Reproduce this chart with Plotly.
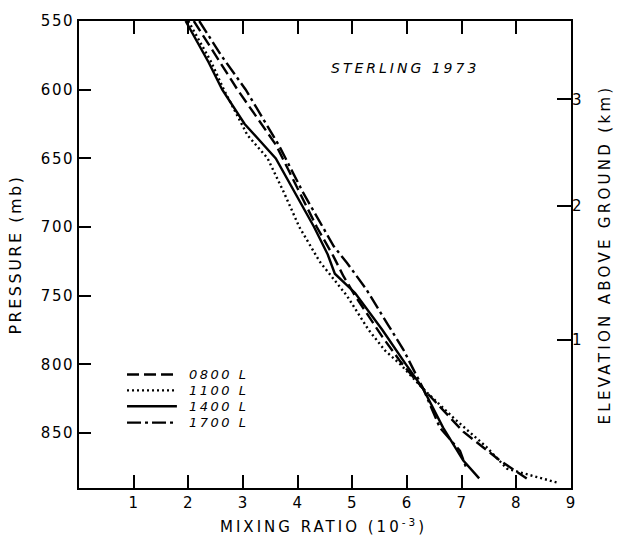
import plotly.graph_objects as go

# ---- data ----
p_0800 = [550, 575, 600, 620, 640, 660, 680, 700, 721, 736, 750, 780, 798, 818, 849, 870, 883]
mr_0800 = [2.10, 2.50, 2.90, 3.25, 3.60, 3.85, 4.10, 4.35, 4.65, 4.84, 5.05, 5.55, 5.88, 6.30, 7.03, 7.70, 8.19]

p_1100 = [550, 580, 600, 625, 633, 650, 675, 700, 725, 750, 775, 790, 800, 818, 840, 860, 876, 886]
mr_1100 = [2.00, 2.42, 2.65, 2.98, 3.08, 3.45, 3.75, 4.03, 4.40, 4.90, 5.30, 5.60, 5.88, 6.30, 6.88, 7.45, 7.83, 8.74]

p_1400 = [550, 580, 600, 625, 650, 675, 700, 720, 734, 748, 775, 800, 818, 846, 870, 883]
mr_1400 = [1.95, 2.37, 2.62, 3.03, 3.60, 3.95, 4.30, 4.55, 4.68, 5.05, 5.55, 5.98, 6.30, 6.66, 7.03, 7.32]

p_1700 = [550, 575, 600, 640, 675, 700, 714, 726, 745, 771, 789, 818, 846, 863, 877]
mr_1700 = [2.20, 2.60, 3.05, 3.65, 4.10, 4.45, 4.66, 4.90, 5.25, 5.65, 5.93, 6.30, 6.60, 6.97, 7.10]

series_names = ["0800 L", "1100 L", "1400 L", "1700 L"]

x_ticks = [1, 2, 3, 4, 5, 6, 7, 8, 9]
x_ticklabels = ["1", "2", "3", "4", "5", "6", "7", "8", "9"]
p_ticks = [550, 600, 650, 700, 750, 800, 850]
p_ticklabels = ["550", "600", "650", "700", "750", "800", "850"]
elev_p = [782, 684.5, 607]
elev_labels = ["1", "2", "3"]

title_text = "STERLING 1973"
xlabel = "MIXING RATIO (10<sup>-3</sup>)"
ylabel = "PRESSURE (mb)"
y2label = "ELEVATION ABOVE GROUND (km)"

# ---- styling ----
FONT = "DejaVu Sans"
dashes = ["12px,5px", "2px,3px", "solid", "14px,4px,3px,4px"]
widths = [2.4, 2.4, 2.4, 2.4]


def spaced(t, ls):
    return '<span style="letter-spacing:%spx">%s</span>' % (ls, t)


fig = go.Figure()
data = [(mr_0800, p_0800), (mr_1100, p_1100), (mr_1400, p_1400), (mr_1700, p_1700)]
for (xs, ys), name, d, w in zip(data, series_names, dashes, widths):
    fig.add_trace(go.Scatter(x=xs, y=ys, mode="lines", name=name,
                             line=dict(color="black", width=w, dash=d),
                             showlegend=False, hoverinfo="skip"))
fig.add_trace(go.Scatter(x=[], y=[], yaxis="y2", showlegend=False))

axis_common = dict(showline=True, linecolor="black", linewidth=2, showgrid=False,
                   zeroline=False, ticks="inside", tickcolor="black", tickwidth=1.6,
                   tickfont=dict(family=FONT, size=15, color="black"))

fig.update_layout(
    width=617, height=536,
    margin=dict(l=79, r=46, t=15, b=48),
    plot_bgcolor="white", paper_bgcolor="white",
    showlegend=False,
    xaxis=dict(range=[0, 9], tickvals=x_ticks,
               ticktext=[spaced(t, 1) for t in x_ticklabels],
               ticklen=13, mirror="ticks", **axis_common),
    yaxis=dict(range=[890, 550], tickvals=p_ticks,
               ticktext=[spaced(t, 1.5) for t in p_ticklabels],
               ticklen=12, mirror=True, **axis_common),
    yaxis2=dict(range=[890, 550], overlaying="y", side="right",
                tickvals=elev_p, ticktext=elev_labels,
                showline=False, showgrid=False, zeroline=False,
                ticks="inside", ticklen=14, tickwidth=1.6, tickcolor="black",
                tickfont=dict(family=FONT, size=15, color="black")),
)

# legend drawn inside the plot area
leg_y = [0.243, 0.209, 0.175, 0.140]
for name, d, w, yy in zip(series_names, dashes, widths, leg_y):
    fig.add_shape(type="line", xref="paper", yref="paper",
                  x0=0.0976, x1=0.199, y0=yy, y1=yy,
                  line=dict(color="black", width=w, dash=d))
    fig.add_annotation(xref="paper", yref="paper", x=0.2195, y=yy,
                       text=spaced(name, 2.5), showarrow=False,
                       xanchor="left", yanchor="middle",
                       font=dict(family=FONT, size=13, color="black", style="italic"))

fig.add_annotation(xref="paper", yref="paper", x=0.6626, y=0.8985,
                   text=spaced(title_text, 3), showarrow=False,
                   xanchor="center", yanchor="middle",
                   font=dict(family=FONT, size=14, color="black", style="italic"))

fig.add_annotation(xref="paper", yref="paper", x=0.497, y=-0.081,
                   text=spaced(xlabel, 3), showarrow=False,
                   xanchor="center", yanchor="middle",
                   font=dict(family=FONT, size=15, color="black"))
fig.add_annotation(xref="paper", yref="paper", x=-0.130, y=0.50,
                   text=spaced(ylabel, 2.5), showarrow=False, textangle=-90,
                   xanchor="center", yanchor="middle",
                   font=dict(family=FONT, size=16, color="black"))
fig.add_annotation(xref="paper", yref="paper", x=1.069, y=0.50,
                   text=spaced(y2label, 3.3), showarrow=False, textangle=-90,
                   xanchor="center", yanchor="middle",
                   font=dict(family=FONT, size=15, color="black"))

fig.write_html("out.html")
